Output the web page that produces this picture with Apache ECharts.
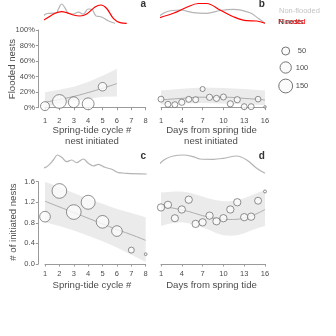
<!DOCTYPE html>
<html>
<head>
<meta charset="utf-8">
<script src="https://cdn.jsdelivr.net/npm/echarts@6/dist/echarts.min.js"></script>
<style>
  html, body { margin: 0; padding: 0; background: #fff; }
  #chart { width: 336px; height: 336px; }
</style>
</head>
<body>
<div id="chart"></div>
<script>
// ---- panel a: share of flooded nests by spring-tide cycle ----
const cycleX = [1, 2, 3, 4, 5];
const floodPct = [2, 8, 7, 5, 27];
const floodN = [63, 150, 92, 110, 58];
const floodFitX = [1, 2, 3, 4, 5, 6];
const floodFit = [7, 10.5, 14.5, 19.5, 25, 31];
const floodLo = [1.5, 4.5, 8, 11.5, 14, 14.5];
const floodHi = [20, 23, 27, 33, 41, 50];

// ---- panel b: share of flooded nests by days from spring tide ----
const dayX = [1, 2, 3, 4, 5, 6, 7, 8, 9, 10, 11, 12, 13, 14, 15, 16];
const dayFloodPct = [11, 4.4, 3.9, 7, 10.8, 10.3, 24, 13.4, 12, 13.8, 5, 10.3, 1.3, 1.3, 11, 1];
const dayFloodN = [28, 28, 28, 30, 28, 28, 20, 30, 30, 28, 30, 30, 28, 28, 25, 5];
const dayFloodFitX = [1, 4, 7, 10, 13, 16];
const dayFloodFit = [10, 12, 13.5, 13.5, 12, 10];
const dayFloodLo = [4, 5.5, 6, 5.5, 4.5, 3];
const dayFloodHi = [22, 24.5, 26, 25.5, 24, 22];

// ---- panel c: initiated nests by spring-tide cycle ----
const cycleAllX = [1, 2, 3, 4, 5, 6, 7, 8];
const initNests = [0.92, 1.42, 1.01, 1.2, 0.82, 0.64, 0.27, 0.19];
const initN = [89, 169, 169, 153, 126, 89, 28, 6];
const initFit = [1.22, 1.11, 1.0, 0.89, 0.78, 0.67, 0.57, 0.46];
const initLo = [0.81, 0.74, 0.65, 0.55, 0.44, 0.32, 0.18, 0.04];
const initHi = [1.60, 1.49, 1.38, 1.27, 1.17, 1.07, 0.99, 0.91];

// ---- panel d: initiated nests by days from spring tide ----
const dayInit = [1.10, 1.15, 0.89, 1.06, 1.25, 0.78, 0.81, 0.94, 0.83, 0.89, 1.06, 1.20, 0.91, 0.92, 1.23, 1.41];
const dayInitN = [42, 42, 40, 42, 42, 42, 42, 42, 42, 42, 42, 42, 42, 42, 38, 7];
const dayInitFit = [1.11, 1.10, 1.08, 1.05, 1.02, 0.98, 0.94, 0.91, 0.885, 0.87, 0.865, 0.87, 0.895, 0.935, 0.99, 1.06];
const dayInitLo = [0.74, 0.78, 0.80, 0.81, 0.79, 0.75, 0.71, 0.66, 0.60, 0.56, 0.55, 0.56, 0.60, 0.65, 0.70, 0.74];
const dayInitHi = [1.39, 1.40, 1.41, 1.41, 1.39, 1.35, 1.31, 1.27, 1.24, 1.22, 1.22, 1.24, 1.28, 1.33, 1.39, 1.44];

// ---- marginal densities (relative height) ----
const densCycleGrayX = [0.53, 1.0, 1.35, 1.81, 1.92, 2.16, 2.39, 2.62, 2.97, 3.32, 3.66, 3.99, 4.25, 4.55, 4.89, 5.38, 5.87];
const densCycleGray = [0, 0.44, 0.5, 0.53, 0.7, 0.965, 0.77, 0.5, 0.465, 0.555, 0.455, 0.715, 0.7, 0.365, 0.33, 0.13, 0];
const densCycleRedX = [0.53, 1.12, 1.7, 2.16, 2.51, 2.97, 3.43, 3.9, 4.48, 4.89, 5.29, 5.75, 6.22, 6.68];
const densCycleRed = [0, 0.25, 0.5, 0.58, 0.53, 0.415, 0.365, 0.465, 0.815, 0.915, 0.74, 0.25, 0.03, 0];
const densDayGrayX = [0.47, 1.82, 3.74, 5.66, 7.59, 9.51, 11.43, 13.84, 15.03, 16.0];
const densDayGray = [0.29, 0.58, 0.665, 0.53, 0.5, 0.64, 0.7, 0.53, 0.25, 0];
const densDayRedX = [0.47, 2.77, 4.71, 6.38, 7.59, 9.51, 11.43, 13.36, 14.8, 16.0];
const densDayRed = [0.25, 0.5, 0.8, 0.99, 0.99, 0.665, 0.33, 0.13, 0.115, 0];
const densInitX = [0.53, 1.12, 1.58, 1.86, 2.16, 2.51, 2.86, 3.2, 3.66, 4.01, 4.36, 4.71, 5.17, 5.64, 6.1, 6.68, 8.07];
const densInit = [0.265, 0.38, 0.715, 0.965, 0.85, 0.63, 0.715, 0.58, 0.765, 0.55, 0.415, 0.5, 0.35, 0.25, 0.08, 0.05, 0.015];
const densInitDayX = [0.47, 1.58, 2.77, 4.22, 5.66, 6.63, 8.54, 9.99, 11.92, 13.36, 14.8, 16.0];
const densInitDay = [0.415, 0.75, 0.915, 0.965, 0.88, 0.765, 0.75, 0.8, 0.915, 0.715, 0.3, 0.05];

// ---- axis ticks and legend ----
const dayTicks = [1, 4, 7, 10, 13, 16];
const legendSizes = [50, 100, 150];

const FONT = '"Liberation Sans", Arial, sans-serif';
const AXIS = '#9a9a9a';
const TXT = '#4d4d4d';
const BAND = '#ebebeb';
const FIT = '#acacac';
const GRAY = '#b4b4b4';
const RED = '#ff0000';

const diam = n => 8 * Math.sqrt(n / 50);
const zip = (xs, ys) => xs.map((x, i) => [x, ys[i]]);
const zip3 = (xs, ys, ns) => xs.map((x, i) => [x, ys[i], ns[i]]);

function band(idx, xs, lo, hi) {
  return {
    type: 'custom', xAxisIndex: idx, yAxisIndex: idx, silent: true, z: 1, clip: false,
    data: [[xs[0], lo[0]]],
    renderItem: function (params, api) {
      const pts = [];
      for (let i = 0; i < xs.length; i++) pts.push(api.coord([xs[i], hi[i]]));
      for (let i = xs.length - 1; i >= 0; i--) pts.push(api.coord([xs[i], lo[i]]));
      return { type: 'polygon', shape: { points: pts }, style: { fill: BAND } };
    }
  };
}
function fit(idx, xs, ys) {
  return { type: 'line', xAxisIndex: idx, yAxisIndex: idx, data: zip(xs, ys), smooth: true,
    symbol: 'none', silent: true, z: 2, lineStyle: { color: FIT, width: 1 } };
}
function dots(idx, xs, ys, ns) {
  return { type: 'scatter', xAxisIndex: idx, yAxisIndex: idx, data: zip3(xs, ys, ns), clip: false,
    symbolSize: v => diam(v[2]), z: 3, silent: true,
    itemStyle: { color: '#fbfbfb', borderColor: '#666', borderWidth: 0.9 } };
}
function dens(idx, xs, ys, color) {
  return { type: 'line', xAxisIndex: idx, yAxisIndex: idx, data: zip(xs, ys), smooth: 0.35,
    symbol: 'none', silent: true, clip: false, lineStyle: { color: color, width: 1.2 } };
}

const leftA = 45, widthA = 100.7, leftB = 161, widthB = 104;
const topTop = 30, hTop = 77.7, topBot = 181.7, hBot = 82.3;

const grid = [
  { left: leftA, top: topTop, width: widthA, height: hTop },
  { left: leftB, top: topTop, width: widthB, height: hTop },
  { left: leftA, top: topBot, width: widthA, height: hBot },
  { left: leftB, top: topBot, width: widthB, height: hBot },
  { left: leftA, top: 3.3, width: widthA, height: 20 },
  { left: leftB, top: 3.3, width: widthB, height: 20 },
  { left: leftA, top: 154.3, width: widthA, height: 20 },
  { left: leftB, top: 154.3, width: widthB, height: 20 }
];

const lbl = { color: TXT, fontSize: 7.5, fontFamily: FONT };
function xCycle(g, off, margin) {
  return { gridIndex: g, type: 'value', min: 1, max: 8, interval: 1, offset: off,
    axisLine: { lineStyle: { color: AXIS, width: 1 } },
    axisTick: { length: 2.5, lineStyle: { color: AXIS } },
    axisLabel: Object.assign({ margin: margin }, lbl), splitLine: { show: false } };
}
function xDay(g, off, margin) {
  return { gridIndex: g, type: 'value', min: 1, max: 16, offset: off,
    axisLine: { lineStyle: { color: AXIS, width: 1 } },
    axisTick: { length: 2.5, lineStyle: { color: AXIS }, customValues: dayTicks },
    axisLabel: Object.assign({ margin: margin, customValues: dayTicks }, lbl), splitLine: { show: false } };
}
function hidden(g, min, max, t) {
  return { gridIndex: g, type: 'value', min: min, max: max, show: false, splitLine: { show: false } };
}

const xAxis = [
  xCycle(0, 5.6, 4),
  xDay(1, 5.6, 4),
  xCycle(2, 0.5, 5.5),
  xDay(3, 0.5, 5.5),
  hidden(4, 1, 8), hidden(5, 1, 16), hidden(6, 1, 8), hidden(7, 1, 16)
];
const yAxis = [
  { gridIndex: 0, type: 'value', min: 0, max: 100, interval: 20, offset: 6.7,
    axisLine: { show: true, lineStyle: { color: AXIS, width: 1 } },
    axisTick: { show: true, length: 2.5, lineStyle: { color: AXIS } },
    axisLabel: Object.assign({ margin: 3.5, formatter: '{value}%' }, lbl), splitLine: { show: false } },
  hidden(1, 0, 100),
  { gridIndex: 2, type: 'value', min: 0, max: 1.6, interval: 0.4, offset: 6.7,
    axisLine: { show: true, lineStyle: { color: AXIS, width: 1 } },
    axisTick: { show: true, length: 2.5, lineStyle: { color: AXIS } },
    axisLabel: Object.assign({ margin: 3.5, formatter: v => v.toFixed(1) }, lbl), splitLine: { show: false } },
  hidden(3, 0, 1.6),
  hidden(4, 0, 1), hidden(5, 0, 1), hidden(6, 0, 1), hidden(7, 0, 1)
];

const series = [
  band(0, floodFitX, floodLo, floodHi), fit(0, floodFitX, floodFit), dots(0, cycleX, floodPct, floodN),
  band(1, dayFloodFitX, dayFloodLo, dayFloodHi), fit(1, dayFloodFitX, dayFloodFit), dots(1, dayX, dayFloodPct, dayFloodN),
  band(2, cycleAllX, initLo, initHi), fit(2, cycleAllX, initFit), dots(2, cycleAllX, initNests, initN),
  band(3, dayX, dayInitLo, dayInitHi), fit(3, dayX, dayInitFit), dots(3, dayX, dayInit, dayInitN),
  dens(4, densCycleGrayX, densCycleGray, GRAY), dens(4, densCycleRedX, densCycleRed, RED),
  dens(5, densDayGrayX, densDayGray, GRAY), dens(5, densDayRedX, densDayRed, RED),
  dens(6, densInitX, densInit, GRAY), dens(7, densInitDayX, densInitDay, GRAY)
];

function txt(x, y, s, o) {
  return { type: 'text', x: x, y: y, silent: true, rotation: (o && o.rot) || 0,
    style: Object.assign({ text: s, fill: TXT, font: '9.6px ' + FONT, align: 'center', verticalAlign: 'middle' }, (o && o.style) || {}) };
}
const letter = { font: 'bold 10px ' + FONT, fill: '#333' };
const small = { font: '7.5px ' + FONT, align: 'left' };

const graphic = [
  txt(12.7, 69, 'Flooded nests', { rot: Math.PI / 2 }),
  txt(13.3, 222, '# of initiated nests', { rot: Math.PI / 2 }),
  txt(92, 130.7, 'Spring-tide cycle #'),
  txt(92, 141.7, 'nest initiated'),
  txt(211.5, 130.7, 'Days from spring tide'),
  txt(211, 141.7, 'nest initiated'),
  txt(92, 285.7, 'Spring-tide cycle #'),
  txt(211.5, 285.7, 'Days from spring tide'),
  txt(143.3, 4.5, 'a', { style: letter }),
  txt(261.7, 4.5, 'b', { style: letter }),
  txt(143.3, 156, 'c', { style: letter }),
  txt(261.7, 156, 'd', { style: letter }),
  txt(279, 11, 'Non-flooded', { style: Object.assign({}, small, { fill: '#c4c4c4' }) }),
  txt(278.3, 22, 'N nests', { style: Object.assign({}, small, { fill: '#333' }) }),
  txt(278.3, 21.7, 'Flooded', { style: Object.assign({}, small, { fill: RED }) })
];
const legendY = [51, 67.5, 86];
legendSizes.forEach((n, i) => {
  graphic.push({ type: 'circle', x: 285.7, y: legendY[i], silent: true,
    shape: { cx: 0, cy: 0, r: diam(n) / 2 }, style: { fill: '#fbfbfb', stroke: '#666', lineWidth: 0.9 } });
  graphic.push(txt(302, legendY[i], String(n), { style: { font: '7.5px ' + FONT } }));
});

const chart = echarts.init(document.getElementById('chart'), null, { renderer: 'canvas' });
chart.setOption({
  animation: false,
  backgroundColor: '#fff',
  textStyle: { fontFamily: FONT },
  grid: grid, xAxis: xAxis, yAxis: yAxis, series: series, graphic: graphic
});
</script>
</body>
</html>
